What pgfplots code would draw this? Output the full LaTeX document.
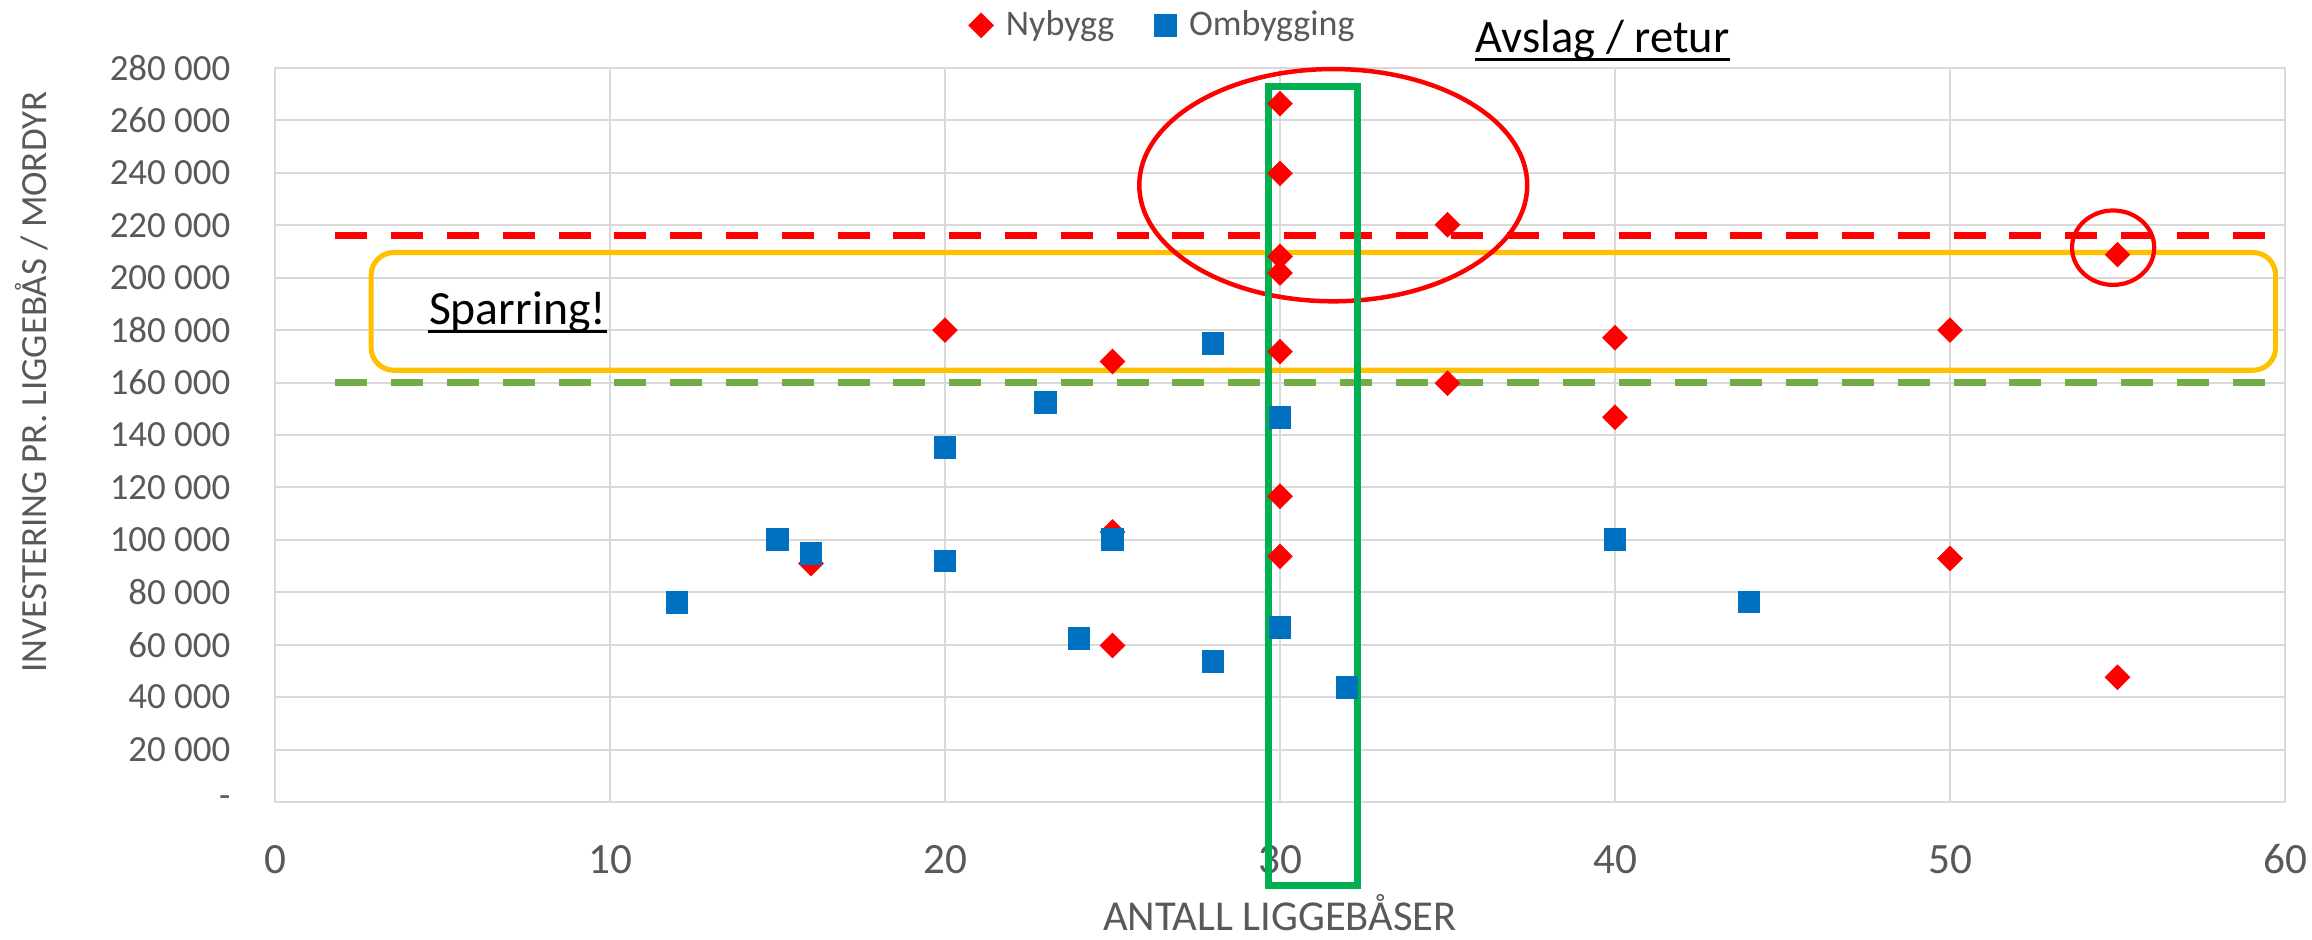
\documentclass[border=0pt]{standalone}
\usepackage{pgfplots}
\pgfplotsset{compat=1.18}
\usepackage{fontspec}
\setmainfont{Carlito}

\definecolor{gridgray}{HTML}{D9D9D9}
\definecolor{txtgray}{HTML}{595959}
\definecolor{nyred}{HTML}{FF0000}
\definecolor{omblue}{HTML}{0070C0}
\definecolor{limitgreen}{HTML}{70AD47}
\definecolor{boxgreen}{HTML}{00B050}
\definecolor{boxyellow}{HTML}{FFC000}

\begin{document}
\begin{tikzpicture}
\useasboundingbox (-91.67pt,-46pt) rectangle (679pt,267.33pt);
\begin{axis}[
  at={(0pt,0pt)}, anchor=south west,
  width=670pt, height=244.67pt, scale only axis,
  xmin=0, xmax=60, ymin=0, ymax=280000,
  xtick={0,10,...,60},
  ytick={0,20000,...,280000},
  yticklabels={-\hspace{6pt},20 000,40 000,60 000,80 000,100 000,120 000,140 000,160 000,180 000,200 000,220 000,240 000,260 000,280 000},
  scaled y ticks=false,
  /pgf/number format/assume math mode=true,
  xticklabel style={font=\fontsize{14.4}{16}\selectfont, text=txtgray, inner sep=0pt, anchor=base},
  xticklabel shift=23.7pt,
  yticklabel style={font=\fontsize{12.3}{14}\selectfont, text=txtgray, inner sep=0pt, anchor=east},
  yticklabel shift=14.7pt,
  tick style={draw=none},
  grid=major,
  major grid style={gridgray, line width=0.7pt},
  axis line style={gridgray, line width=0.7pt},
  clip=false,
  xlabel={ANTALL LIGGEBÅSER},
  xlabel style={at={(axis description cs:0.5,-0.1745)}, anchor=base, inner sep=0pt, text=txtgray, font=\fontsize{14.2}{16}\selectfont},
  ylabel={INVESTERING PR. LIGGEBÅS / MORDYR},
  ylabel style={at={(axis description cs:-0.1209,0.572)}, anchor=center, inner sep=0pt, text=txtgray, font=\fontsize{12.3}{14}\selectfont},
  legend columns=2,
  legend style={draw=none, fill=none, inner sep=0pt, at={(0.345,1.058)}, anchor=west,
    font=\fontsize{12}{14}\selectfont, text=txtgray,
    /tikz/every odd column/.append style={column sep=2.3pt},
    /tikz/every even column/.append style={column sep=11.4pt}},
]

% limit lines
\addplot[forget plot, nyred, line width=2.4pt, dash pattern=on 10.7pt off 7.9pt] coordinates {(1.8,216000) (59.6,216000)};
\addplot[forget plot, limitgreen, line width=2.4pt, dash pattern=on 10.7pt off 7.9pt] coordinates {(1.8,160000) (59.6,160000)};

% Nybygg
\addplot[only marks, mark=square*, mark size=2.83pt, color=nyred,
  mark options={rotate=45, fill=nyred, draw=none}] coordinates {
  (16,91000) (20,180000) (25,168000) (25,103000) (25,59700)
  (30,266400) (30,239800) (30,208100) (30,201800) (30,171800)
  (30,116600) (30,93700) (35,220200) (35,159700) (40,177100)
  (40,146800) (50,180000) (50,92900) (55,208800) (55,47600)
};
\addlegendentry{Nybygg}

% Ombygging
\addplot[only marks, mark=square*, mark size=3.6pt, color=omblue,
  mark options={fill=omblue, draw=none}] coordinates {
  (12,76200) (15,100000) (16,94900) (20,135300) (20,91900)
  (23,152400) (24,62400) (25,100000) (28,174900) (28,53700)
  (30,146700) (30,66700) (32,43800) (40,100000) (44,76300)
};
\addlegendentry{Ombygging}

% annotations
\draw[boxyellow, line width=1.7pt, rounded corners=7.5pt] (axis cs:2.87,164700) rectangle (axis cs:59.72,209600);
\draw[nyred, line width=1.5pt] (axis cs:31.59,235300) ellipse [x radius=64.66pt, y radius=38.71pt];
\draw[nyred, line width=1.4pt] (axis cs:54.87,211450) ellipse [x radius=13.7pt, y radius=12.4pt];
\draw[boxgreen, line width=2.3pt] (axis cs:29.65,-31900) rectangle (axis cs:32.32,273000);

\node[anchor=base west, inner sep=0pt, font=\fontsize{15.9}{18}\selectfont] (spar) at (axis cs:4.58,182200) {Sparring!};
\draw[black, line width=0.9pt] ([yshift=-2.4pt]spar.base west) -- ([yshift=-2.4pt]spar.base east);
\node[anchor=base, inner sep=0pt, yshift=5pt, font=\fontsize{15.5}{18}\selectfont] (ttl) at (axis cs:39.63,280000) {Avslag / retur};
\draw[black, line width=0.9pt] ([yshift=-2.2pt]ttl.base west) -- ([yshift=-2.2pt]ttl.base east);
\end{axis}
\end{tikzpicture}
\end{document}
